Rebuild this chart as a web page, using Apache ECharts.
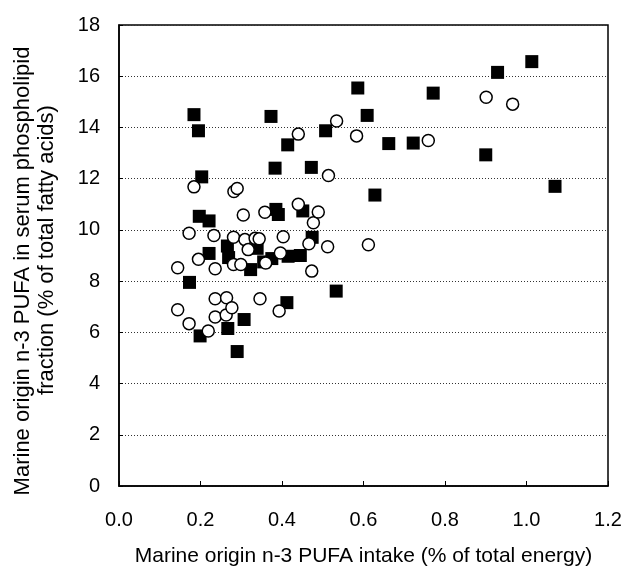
<!DOCTYPE html>
<html>
<head>
<meta charset="utf-8">
<script src="https://cdn.jsdelivr.net/npm/echarts@6/dist/echarts.min.js"></script>
<style>html,body{margin:0;padding:0;background:#fff;}#c{width:625px;height:572px;}</style>
</head>
<body>
<div id="c"></div>
<script>
// Open circles: [intake, serum PUFA]
const circlesX = [0.144,0.144,0.172,0.172,0.184,0.195,0.219,0.233,0.236,0.236,0.236,0.264,0.263,0.277,0.281,0.281,0.282,0.29,0.299,0.305,0.309,0.317,0.334,0.344,0.346,0.358,0.36,0.393,0.396,0.403,0.44,0.44,0.466,0.473,0.477,0.489,0.512,0.514,0.534,0.583,0.612,0.759,0.901,0.966];
const circlesY = [8.52,6.88,9.87,6.34,11.68,8.85,6.05,9.78,8.48,7.31,6.6,7.35,6.68,6.96,9.71,8.65,11.5,11.62,8.65,10.58,9.62,9.23,9.67,9.65,7.31,10.69,8.71,6.83,9.1,9.73,13.74,11.0,9.46,8.39,10.28,10.7,9.34,12.12,14.25,13.67,9.42,13.49,15.18,14.91];
// Filled squares
const squaresX = [0.173,0.184,0.195,0.197,0.199,0.203,0.221,0.221,0.266,0.269,0.267,0.29,0.307,0.323,0.339,0.355,0.375,0.373,0.383,0.385,0.391,0.412,0.414,0.415,0.445,0.451,0.472,0.474,0.507,0.533,0.586,0.609,0.628,0.662,0.722,0.771,0.90,0.929,1.013,1.07];
const squaresY = [7.95,14.5,13.87,10.53,5.86,12.07,10.35,9.08,9.37,8.92,6.15,5.25,6.5,8.45,9.28,8.75,8.88,14.43,12.41,10.8,10.6,7.16,13.32,8.97,9.0,10.74,12.44,9.71,13.87,7.61,15.54,14.47,11.36,13.37,13.39,15.34,12.93,16.15,16.57,11.7];
const xTitle = 'Marine origin n-3 PUFA intake (% of total energy)';
const yTitleLine1 = 'Marine origin n-3 PUFA in serum phospholipid';
const yTitleLine2 = 'fraction (% of total fatty acids)';

const zip = (a, b) => a.map((v, i) => [v, b[i]]);
const font = 'Liberation Sans, Arial, sans-serif';
const chart = echarts.init(document.getElementById('c'), null, {renderer: 'canvas'});
chart.setOption({
  animation: false,
  backgroundColor: '#fff',
  grid: {left: 119, right: 17, top: 25, bottom: 85, show: true, borderColor: '#000', borderWidth: 1.5, backgroundColor: 'transparent'},
  graphic: [
    {type: 'text', x: 23, y: 271, rotation: Math.PI / 2,
     style: {text: yTitleLine1, align: 'center', verticalAlign: 'middle', fontSize: 22, fontFamily: font, fill: '#000'}},
    {type: 'text', x: 47, y: 250, rotation: Math.PI / 2,
     style: {text: yTitleLine2, align: 'center', verticalAlign: 'middle', fontSize: 22, fontFamily: font, fill: '#000'}}
  ],
  xAxis: {
    type: 'value', min: 0, max: 1.2, interval: 0.2,
    name: xTitle, nameLocation: 'middle', nameGap: 60,
    nameTextStyle: {fontFamily: font, fontSize: 21, color: '#000'},
    axisLine: {onZero: false, lineStyle: {color: '#000', width: 1.5}},
    axisTick: {inside: true, length: 5, lineStyle: {color: '#000'}},
    axisLabel: {margin: 24, fontFamily: font, fontSize: 20, color: '#000', formatter: v => v.toFixed(1)},
    splitLine: {show: false}
  },
  yAxis: {
    type: 'value', min: 0, max: 18, interval: 2,
    axisLine: {onZero: false, lineStyle: {color: '#000', width: 1.5}},
    axisTick: {inside: true, length: 4, lineStyle: {color: '#000'}},
    axisLabel: {margin: 19, fontFamily: font, fontSize: 20, color: '#000'},
    splitLine: {show: true, lineStyle: {color: '#333', type: [1, 2], width: 1}}
  },
  series: [
    {type: 'scatter', data: zip(squaresX, squaresY), symbol: 'rect', symbolSize: 13,
     itemStyle: {color: '#000', opacity: 1}, z: 2},
    {type: 'scatter', data: zip(circlesX, circlesY), symbol: 'circle', symbolSize: 12,
     itemStyle: {color: '#fff', borderColor: '#000', borderWidth: 1.5, opacity: 1}, z: 3}
  ]
});
</script>
</body>
</html>
